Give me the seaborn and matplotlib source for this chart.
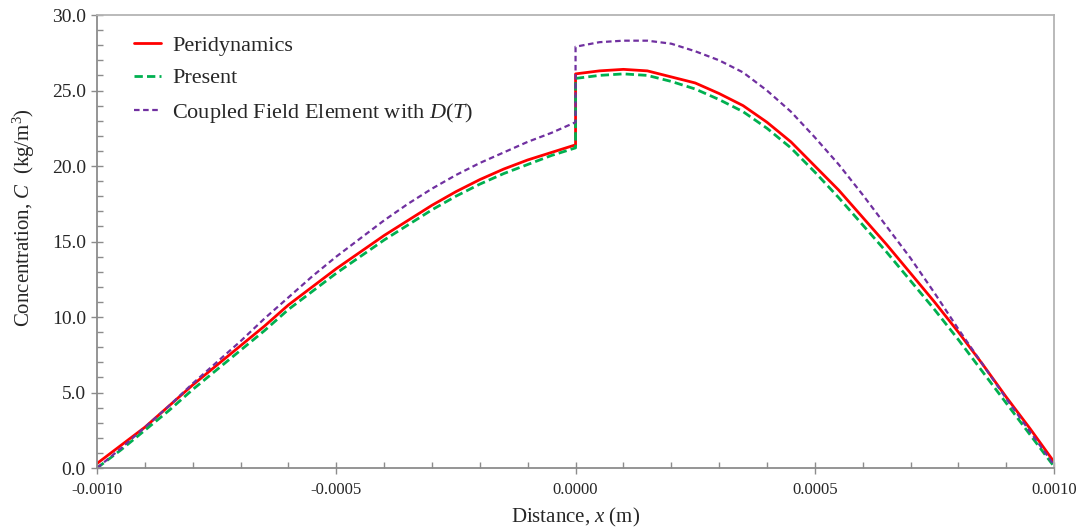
import numpy as np
import matplotlib
matplotlib.use("Agg")
import matplotlib.pyplot as plt
from matplotlib.ticker import MultipleLocator, FormatStrFormatter
import seaborn as sns

# sample positions, left half then right half (both include x = 0, the jump)
x_left = np.round(np.linspace(-0.001, 0.0, 21), 6)
x_right = np.round(np.linspace(0.0, 0.001, 21), 6)

# Peridynamics (red, solid)
peri_left = [0.3, 1.5, 2.7, 4.1, 5.5, 6.8, 8.1, 9.4, 10.8, 12.0, 13.2,
             14.3, 15.4, 16.4, 17.4, 18.3, 19.1, 19.8, 20.4, 20.9, 21.4]
peri_right = [26.1, 26.3, 26.4, 26.3, 25.9, 25.5, 24.8, 24.0, 22.9, 21.6, 20.0,
              18.4, 16.6, 14.8, 12.9, 11.0, 9.0, 6.9, 4.7, 2.6, 0.4]

# Present (green, dashed)
pres_left = [0.0, 1.2, 2.5, 3.8, 5.2, 6.5, 7.8, 9.1, 10.5, 11.7, 12.9,
             14.0, 15.1, 16.1, 17.1, 18.0, 18.8, 19.5, 20.1, 20.7, 21.2]
pres_right = [25.8, 26.0, 26.1, 26.0, 25.6, 25.1, 24.4, 23.6, 22.5, 21.2, 19.6,
              17.9, 16.1, 14.3, 12.4, 10.5, 8.5, 6.4, 4.3, 2.2, 0.1]

# Coupled Field Element with D(T) (purple, short dashes)
cfe_left = [0.0, 1.3, 2.7, 4.1, 5.6, 7.0, 8.4, 9.9, 11.3, 12.7, 14.0,
            15.2, 16.4, 17.5, 18.5, 19.4, 20.2, 20.9, 21.6, 22.2, 22.9]
cfe_right = [27.9, 28.2, 28.3, 28.3, 28.1, 27.6, 27.0, 26.2, 25.0, 23.6, 21.9,
             20.1, 18.1, 16.0, 13.9, 11.6, 9.2, 6.9, 4.6, 2.4, 0.2]

labels = ["Peridynamics", "Present", "Coupled Field Element with $D$($T$)"]

x_all = np.concatenate([x_left, x_right])

sns.set_style("ticks")
plt.rcParams["font.family"] = ["Liberation Serif", "DejaVu Serif"]
plt.rcParams["mathtext.fontset"] = "custom"
plt.rcParams["mathtext.rm"] = "Liberation Serif"
plt.rcParams["mathtext.it"] = "Liberation Serif:italic"
plt.rcParams["axes.unicode_minus"] = False

fig = plt.figure(figsize=(10.88, 5.32), dpi=100)
ax = fig.add_axes([0.0892, 0.1203, 0.8796, 0.8515])

sns.lineplot(x=x_all, y=np.concatenate([peri_left, peri_right]), ax=ax,
             color="#ff0000", linewidth=2.0, sort=False, estimator=None,
             label=labels[0])
sns.lineplot(x=x_all, y=np.concatenate([pres_left, pres_right]), ax=ax,
             color="#00b050", linewidth=2.0, sort=False, estimator=None,
             label=labels[1])
sns.lineplot(x=x_all, y=np.concatenate([cfe_left, cfe_right]), ax=ax,
             color="#7030a0", linewidth=1.6, sort=False, estimator=None,
             label=labels[2])
lines = ax.get_lines()
lines[1].set_dashes([3.0, 1.5])
lines[2].set_dashes([2.5, 1.6])

ax.set_xlim(-0.001, 0.001)
ax.set_ylim(0, 30)
ax.xaxis.set_major_locator(MultipleLocator(0.0005))
ax.xaxis.set_minor_locator(MultipleLocator(0.0001))
ax.xaxis.set_major_formatter(FormatStrFormatter("%.4f"))
ax.yaxis.set_major_locator(MultipleLocator(5))
ax.yaxis.set_minor_locator(MultipleLocator(1))
ax.yaxis.set_major_formatter(FormatStrFormatter("%.1f"))

for side in ["left", "bottom"]:
    ax.spines[side].set_color("#8c8c8c")
for side in ["top", "right"]:
    ax.spines[side].set_color("#b4b4b4")
for s in ax.spines.values():
    s.set_linewidth(1.3)
ax.tick_params(which="major", direction="inout", length=8, width=1.0,
               color="#8c8c8c", labelcolor="#262626")
ax.tick_params(which="minor", direction="in", length=4, width=1.0,
               color="#8c8c8c")
ax.tick_params(axis="x", pad=6, labelsize=12)
ax.tick_params(axis="y", pad=4, labelsize=14)

ax.set_xlabel("Distance, $x$ (m)", fontsize=15, color="#262626", labelpad=6)
ax.set_ylabel("Concentration, $C$  (kg/m$^3$)", fontsize=15, color="#262626")
ax.yaxis.set_label_coords(-0.063, 0.552)

leg = ax.legend(loc="upper left", bbox_to_anchor=(0.018, 1.0), frameon=False,
                fontsize=16, handlelength=1.2, handletextpad=0.5,
                labelspacing=0.55)
for t in leg.get_texts():
    t.set_color("#262626")

fig.savefig("out.png", dpi=100)
